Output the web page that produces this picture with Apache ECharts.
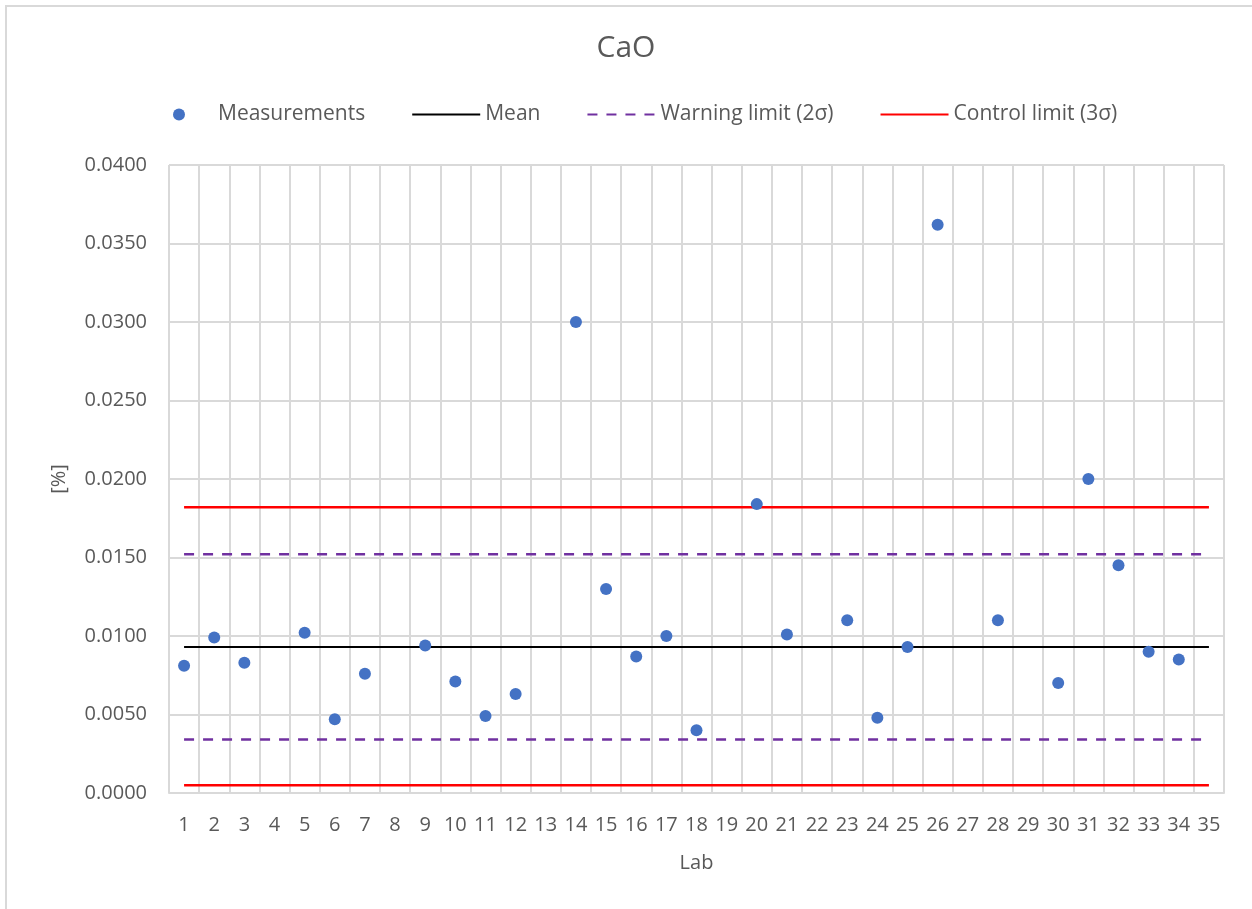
<!DOCTYPE html>
<html>
<head>
<meta charset="utf-8">
<script src="https://cdn.jsdelivr.net/npm/echarts@6/dist/echarts.min.js"></script>
<style>
  html, body { margin: 0; padding: 0; background: #fff; overflow: hidden; }
  #chart { width: 1252px; height: 909px; }
  #frame { position: absolute; left: 5px; top: 5px; width: 1300px; height: 1000px;
           border: 2px solid #d9d9d9; pointer-events: none; }
</style>
</head>
<body>
<div id="chart"></div>
<div id="frame"></div>
<script>
// lab numbers 1..35
const labs = ['1','2','3','4','5','6','7','8','9','10','11','12','13','14','15','16','17','18',
              '19','20','21','22','23','24','25','26','27','28','29','30','31','32','33','34','35'];
// measured CaO [%] per lab, null = no result
const measurements = [0.0081, 0.0099, 0.0083, null, 0.0102, 0.0047, 0.0076, null, 0.0094, 0.0071,
                      0.0049, 0.0063, null, 0.0300, 0.0130, 0.0087, 0.0100, 0.0040, null, 0.0184,
                      0.0101, null, 0.0110, 0.0048, 0.0093, 0.0362, null, 0.0110, null, 0.0070,
                      0.0200, 0.0145, 0.0090, 0.0085, null];
const mean = 0.0093;
const warningLimits = [0.0152, 0.0034];
const controlLimits = [0.0182, 0.0005];

const textColor = '#595959';
const font = 'Open Sans';

const first = labs[0], last = labs[labs.length - 1];
function hLine(v) { return [[first, v], [last, v]]; }

const chart = echarts.init(document.getElementById('chart'));

const series = [
  {
    name: 'Measurements',
    type: 'scatter',
    symbol: 'circle',
    symbolSize: 12,
    itemStyle: { color: '#4472c4', opacity: 1 },
    data: measurements,
    z: 5
  },
  {
    name: 'Mean',
    type: 'line',
    symbol: 'none',
    lineStyle: { color: '#000000', width: 2 },
    itemStyle: { color: '#000000' },
    data: hLine(mean)
  }
];
warningLimits.forEach(v => series.push({
  name: 'Warning limit (2σ)',
  type: 'line',
  symbol: 'none',
  lineStyle: { color: '#7030a0', width: 2.5, type: [10, 9] },
  itemStyle: { color: '#7030a0' },
  data: hLine(v)
}));
controlLimits.forEach(v => series.push({
  name: 'Control limit (3σ)',
  type: 'line',
  symbol: 'none',
  lineStyle: { color: '#ff0000', width: 2.5 },
  itemStyle: { color: '#ff0000' },
  data: hLine(v)
}));

// line entries in the legend: just the stroke, no dot
const noDot = { opacity: 0 };

const option = {
  backgroundColor: '#ffffff',
  animation: false,
  textStyle: { fontFamily: font },
  title: {
    text: 'CaO',
    left: 'center',
    top: 28,
    textStyle: { color: textColor, fontSize: 30, fontWeight: 'normal', fontFamily: font }
  },
  legend: {
    top: 99,
    left: 168,
    itemWidth: 68,
    itemHeight: 12,
    itemGap: 46,
    textStyle: { color: textColor, fontSize: 21, fontFamily: font },
    data: [
      { name: 'Measurements' },
      { name: 'Mean', itemStyle: noDot },
      { name: 'Warning limit (2σ)', itemStyle: noDot },
      { name: 'Control limit (3σ)', itemStyle: noDot }
    ]
  },
  grid: { left: 169, right: 28, top: 165, bottom: 116 },
  xAxis: {
    type: 'category',
    data: labs,
    boundaryGap: true,
    name: 'Lab',
    nameLocation: 'middle',
    nameGap: 60,
    nameTextStyle: { color: textColor, fontSize: 20 },
    axisLine: { show: true, lineStyle: { color: '#d9d9d9', width: 2 } },
    axisTick: { show: false },
    axisLabel: { color: textColor, fontSize: 20, margin: 22, interval: 0 },
    splitLine: { show: true, lineStyle: { color: '#d9d9d9', width: 2 } }
  },
  yAxis: {
    type: 'value',
    min: 0,
    max: 0.04,
    interval: 0.005,
    name: '[%]',
    nameLocation: 'middle',
    nameGap: 100,
    nameTextStyle: { color: textColor, fontSize: 20 },
    axisLine: { show: false },
    axisTick: { show: false },
    axisLabel: { color: textColor, fontSize: 20, margin: 22, formatter: v => v.toFixed(4) },
    splitLine: { show: true, lineStyle: { color: '#d9d9d9', width: 2 } }
  },
  series: series
};

chart.setOption(option);
</script>
</body>
</html>
